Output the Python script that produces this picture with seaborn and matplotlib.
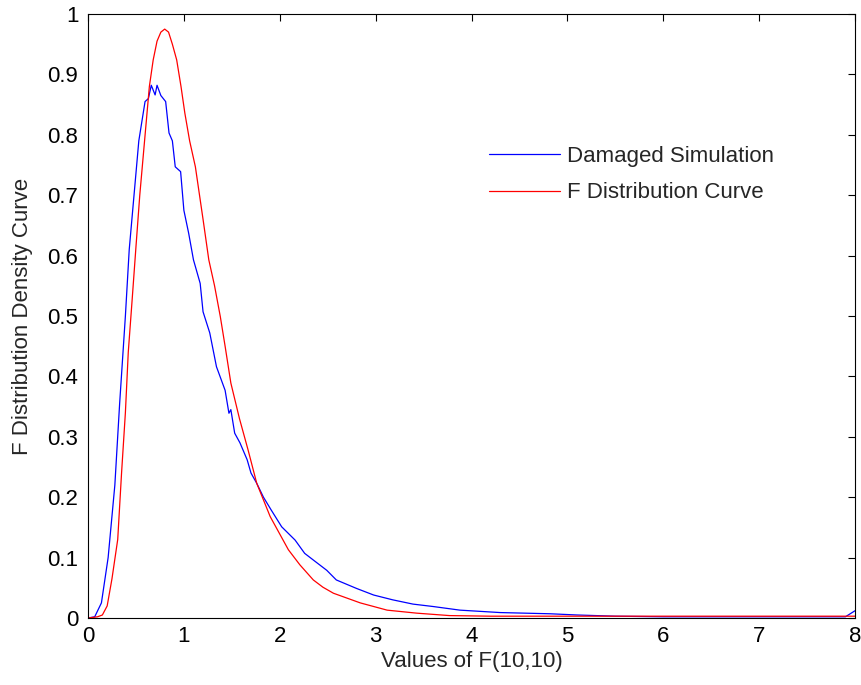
import matplotlib
matplotlib.use("Agg")
import matplotlib.pyplot as plt
import seaborn as sns
import pandas as pd

# Damaged simulation (blue)
blue_x = [0, 0.07, 0.14, 0.21, 0.28, 0.33, 0.39, 0.43, 0.48, 0.53, 0.56, 0.595, 0.63, 0.66,
          0.70, 0.72, 0.76, 0.81, 0.845, 0.88, 0.91, 0.966, 1.0, 1.05, 1.10, 1.17, 1.20, 1.27,
          1.34, 1.43, 1.47, 1.49, 1.53, 1.585, 1.66, 1.70, 1.76, 1.83, 1.91, 2.02, 2.16, 2.26,
          2.35, 2.49, 2.59, 2.80, 2.98, 3.18, 3.39, 3.60, 3.88, 4.30, 4.82, 5.1, 5.5, 6.0, 7.0,
          7.9, 8.0]
blue_y = [0, 0.002, 0.025, 0.10, 0.22, 0.355, 0.50, 0.61, 0.70, 0.79, 0.82, 0.855, 0.86, 0.882,
          0.866, 0.882, 0.865, 0.855, 0.803, 0.79, 0.747, 0.739, 0.675, 0.637, 0.593, 0.554, 0.507,
          0.472, 0.416, 0.377, 0.339, 0.345, 0.306, 0.29, 0.262, 0.24, 0.223, 0.20, 0.179, 0.151,
          0.129, 0.107, 0.096, 0.079, 0.063, 0.049, 0.038, 0.03, 0.023, 0.019, 0.013, 0.009, 0.007,
          0.005, 0.003, 0.002, 0.002, 0.002, 0.012]

# F distribution curve (red)
red_x = [0, 0.1, 0.15, 0.2, 0.25, 0.31, 0.35, 0.39, 0.42, 0.46, 0.5, 0.54, 0.59, 0.64, 0.68,
         0.72, 0.76, 0.8, 0.84, 0.88, 0.925, 0.97, 1.01, 1.06, 1.12, 1.2, 1.26, 1.32, 1.38, 1.43,
         1.49, 1.58, 1.67, 1.76, 1.9, 2.09, 2.21, 2.35, 2.45, 2.56, 2.84, 3.12, 3.43, 3.77, 4.2,
         5.0, 6.0, 7.0, 8.0]
red_y = [0, 0.002, 0.005, 0.02, 0.065, 0.13, 0.24, 0.34, 0.44, 0.526, 0.614, 0.70, 0.79, 0.88,
         0.924, 0.955, 0.97, 0.975, 0.97, 0.95, 0.924, 0.88, 0.836, 0.79, 0.747, 0.66, 0.593,
         0.55, 0.499, 0.45, 0.389, 0.33, 0.278, 0.223, 0.168, 0.113, 0.088, 0.063, 0.051, 0.041,
         0.025, 0.013, 0.008, 0.004, 0.003, 0.003, 0.003, 0.003, 0.003]

x_ticks = [0, 1, 2, 3, 4, 5, 6, 7, 8]
y_ticks = [0, 0.1, 0.2, 0.3, 0.4, 0.5, 0.6, 0.7, 0.8, 0.9, 1]
y_tick_labels = ["0", "0.1", "0.2", "0.3", "0.4", "0.5", "0.6", "0.7", "0.8", "0.9", "1"]

sns.set_style("white")
plt.rcParams["font.family"] = ["Liberation Sans", "DejaVu Sans"]

FS = 16

fig = plt.figure(figsize=(8.61, 6.85), dpi=100)
ax = fig.add_axes([88 / 861, 67 / 685, 767 / 861, 604 / 685])

df_blue = pd.DataFrame({"x": blue_x, "y": blue_y})
df_red = pd.DataFrame({"x": red_x, "y": red_y})
sns.lineplot(data=df_blue, x="x", y="y", ax=ax, color="#0000ff", lw=0.9,
             label="Damaged Simulation", sort=False, estimator=None)
sns.lineplot(data=df_red, x="x", y="y", ax=ax, color="#ff0000", lw=0.9,
             label="F Distribution Curve", sort=False, estimator=None)

ax.set_xlim(0, 8)
ax.set_ylim(0, 1)
ax.set_xticks(x_ticks)
ax.set_xticklabels([str(t) for t in x_ticks])
ax.set_yticks(y_ticks)
ax.set_yticklabels(y_tick_labels)
ax.tick_params(direction="in", length=5, width=0.8, top=True, right=True,
               labelsize=FS, colors="black")
ax.tick_params(axis="y", pad=7)
ax.tick_params(axis="x", pad=6)
for s in ax.spines.values():
    s.set_visible(True)
    s.set_color("black")
    s.set_linewidth(0.8)
ax.set_xlabel("Values of F(10,10)", fontsize=FS, labelpad=3)
ax.set_ylabel("F Distribution Density Curve", fontsize=FS, labelpad=10)

leg = ax.legend(loc="upper left", bbox_to_anchor=(0.497, 0.815), frameon=False,
                fontsize=FS, handlelength=3.2, handletextpad=0.3, labelspacing=0.7)

fig.savefig("out.png", dpi=100)
